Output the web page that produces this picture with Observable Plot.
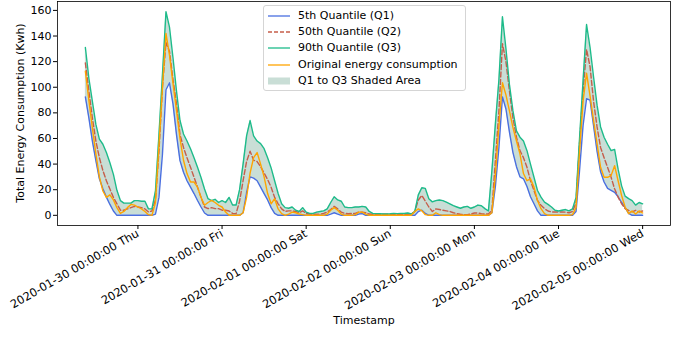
<!DOCTYPE html>
<html><head><meta charset="utf-8">
<script src="https://cdn.jsdelivr.net/npm/d3@7"></script>
<script src="https://cdn.jsdelivr.net/npm/@observablehq/plot@0.6"></script>
<style>
html,body{margin:0;padding:0;background:#fff;}
#wrap{position:relative;width:680px;height:337px;font-family:"DejaVu Sans",sans-serif;}
#legend{position:absolute;left:263px;top:5px;width:203px;height:86px;border:1px solid #d5d5d5;border-radius:3px;background:rgba(255,255,255,0.8);box-sizing:border-box;font-size:11px;color:#000;}
.row{position:absolute;left:0;height:16px;width:200px;}
.row svg{position:absolute;left:3px;top:0;}
.row span{position:absolute;left:34px;top:1px;white-space:nowrap;line-height:14px;}
#ylab{position:absolute;left:20px;top:113px;transform:translate(-50%,-50%) rotate(-90deg);white-space:nowrap;font-size:11px;color:#000;}
</style></head><body><div id="wrap"><div id="chart"></div><div id="legend"></div><div id="ylab"></div></div>
<script>
// hourly series starting 2020-01-29 09:00
const startTime = "2020-01-29T09:00:00Z";
const q1 = [
92.4,76,58,42.7,28.5,20.7,14.2,8.5,3.4,0,
0,0,0,0,0,0,0,0,0,0,
1,14,48,98,103.5,87,63,42.7,33.6,27,
22,17,11.6,6.5,1.8,0,0,0,0,0,
0,0,0,0,0,2,18,30,29,27,
22,17,12,6,1.5,0,0,0,0,0,
0,0,0,0,0,0,0,0,0,0,
1,2,1,0,0,0,0,0,1,1.3,
0,0,0,0,0,0,0,0,0,0,
0,0,0,0,0,3,4,1.5,0,0,
0,0,0,0,0,0,0,0,0,0,
0,0,0,0,0,0,2,23,53,92.5,
83,65,49,38,30,28.5,22.5,14.5,9,3.5,
0,0,0,0,0,0,0,0,0,0,
3,35,70,91,90,70,50,34,26,21,
19.5,18,14.5,10,6,1.5,0,0,0,0];
const q2 = [
119,97,76,58,45,35,27,20.5,14,9,
4,4,5,6,7,6.5,6,5,2.6,3.4,
12,50,100,135,128,106,87,63,53,45,
37.5,29.7,22,14,6.5,5.2,6,5.2,5.2,4,
4,3.4,1.5,1.3,11,27,42,50,43,42,
38,33,28,22,14,9,5,3,3.5,3.5,
3,2,3.5,1.5,1,0.8,0.8,1,1.5,2.5,
4.5,7,5,2.5,1.5,1.2,1.5,1.5,2.5,2.5,
2,1,0.8,0.8,0.8,0.8,0.8,0.8,0.8,0.8,
0.8,0.8,0.8,1,3,12,15.5,11,6.5,3,
5,4.5,4,3.5,3,2,1.3,0.8,0.5,0.5,
1,1.8,1.8,1.3,1,1,4,43,81.5,134,
120,97,76,61,50.5,45,37.5,27,19.4,11.6,
7.8,5.2,3.4,2.6,2.6,2.6,2.6,2.5,2,3,
10,56,97,129.5,116,89,69,53,45,37.5,
29.7,20.7,14.2,9,5.2,3.9,2.6,3.9,2.6,3.4];
const q3 = [
131,107,89,71,59.5,55.5,49,41,32,19.5,
11.5,9.5,9.5,9.5,11.5,11.5,11,11,5,5,
19,63,110,159,147,123,97,74,63.5,58,
52,45,37.5,29.5,20.5,13,11.5,12.5,10,11.5,
10,14,8,8,20,40,62,74,62,58,
56,52,45,37,27,17,9,6,5.5,6.5,
4,3,6,2.5,1.5,1.5,2.5,3,3.5,5,
10,14.5,12,11,6.5,6,6,6.5,6.5,7,
6.5,3,1.5,1.3,1.2,1,1,1.2,1.5,1.3,
1.5,1.5,1.8,1,3,16,21.5,21,13,10.5,
11.5,12,11.5,10.3,9,7.5,6.5,5.5,6.5,7,
5.5,6.5,8,7.5,5.2,3.4,35,72,106,155,
130,102,81.5,66,61,58,50.5,40,29.7,19.4,
14.2,10.3,8.5,6.5,4,3.4,4,4.5,3.5,5,
14,60,105,149,131,108,86,69,61,55.5,
50.5,51.5,36,23,15,13,11.5,8,10,9];
const orig = [
112.5,90,68,48,30,19,14,16,12,6,
1.5,3,6,8.5,8,6.5,5,3,0.5,0,
10,55,100,142,125,103,82,60,43,32.6,
26,26,22,14,7.8,10,11.6,10,7.8,6.5,
2.6,0,0,0,0,2,14,33,45,49,
40,30,17,9,13,5,1.3,0,1,2.5,
2,1,0.5,0,0,0,0,0,0,1,
4,6,4,1,0,0,0,0.5,2.5,2.5,
1,0,0,0,0,0,0,0,0,0,
0,0,0,0,3,5,3.5,0.5,0,0,
2,0.5,0,0,0,0,0,0,0,0,
0,0,0,0,0,0,2,32,70,103.5,
94,81.5,68.5,58,48,32.6,27,28.5,22,11.6,
5.2,1.3,0,0,0,0,0,0,0,0.5,
6,50,89,111,93,74,56,37.5,29.7,29.7,
31,38.8,27,15.5,6.5,1.3,3.4,1,3.4,1.8];
const xTickDays = ["2020-01-30","2020-01-31","2020-02-01","2020-02-02","2020-02-03","2020-02-04","2020-02-05"];
const yTicks = [0,20,40,60,80,100,120,140,160];
const seriesNames = ["5th Quantile (Q1)","50th Quantile (Q2)","90th Quantile (Q3)","Original energy consumption","Q1 to Q3 Shaded Area"];
const xLabel = "Timestamp";
const yLabel = "Total Energy Consumption (Kwh)";
const colors = {q1:"#4a6fe0", q2:"#c65d4a", q3:"#1dbb8a", orig:"#ffa500", fill:"#c9ded6"};

const t0ms = Date.parse(startTime);
const data = q1.map((_, i) => ({t: new Date(t0ms + i*3600e3), q1: q1[i], q2: q2[i], q3: q3[i], orig: orig[i]}));
const tA = +data[0].t, tB = +data[data.length-1].t, pad = (tB - tA)*0.05;
const xTicks = xTickDays.map(d => new Date(d + "T00:00:00Z"));
const fmt = d3.utcFormat("%Y-%m-%d %H:%M:%S %a");

const chart = Plot.plot({
  width: 680, height: 337,
  marginLeft: 57, marginRight: 10, marginTop: 1, marginBottom: 112,
  style: {fontFamily: "DejaVu Sans", fontSize: "11px", color: "#000", background: "#fff", overflow: "visible"},
  x: {type: "utc", domain: [new Date(tA - pad), new Date(tB + pad)]},
  y: {domain: [-7.95, 166.95]},
  marks: [
    Plot.areaY(data, {x: "t", y1: "q1", y2: "q3", fill: colors.fill}),
    Plot.line(data, {x: "t", y: "q1", stroke: colors.q1, strokeWidth: 1.4}),
    Plot.line(data, {x: "t", y: "q2", stroke: colors.q2, strokeWidth: 1.4, strokeDasharray: "5,2.4"}),
    Plot.line(data, {x: "t", y: "q3", stroke: colors.q3, strokeWidth: 1.4}),
    Plot.line(data, {x: "t", y: "orig", stroke: colors.orig, strokeWidth: 1.4}),
    Plot.frame({stroke: "#000", strokeWidth: 0.8}),
    Plot.axisY({ticks: yTicks, tickSize: 4, tickPadding: 2, label: null, fontSize: 11}),
    Plot.axisX({ticks: xTicks, tickFormat: fmt, tickRotate: -30, tickSize: 4, tickPadding: 3, label: null, fontSize: 11.4}),
    Plot.text([xLabel], {frameAnchor: "bottom", dy: 98, fontSize: 11})
  ]
});
document.getElementById("chart").appendChild(chart);
document.getElementById("ylab").textContent = yLabel;

// legend
const lg = document.getElementById("legend");
const rowCenters = [9.5, 26, 42, 58.5, 75];
const keys = ["q1","q2","q3","orig","fill"];
keys.forEach((k, i) => {
  const row = document.createElement("div");
  row.className = "row";
  row.style.top = (rowCenters[i] - 8) + "px";
  let h;
  if (k === "fill") h = `<svg width="24" height="16"><rect x="1" y="4.5" width="22" height="7" fill="${colors.fill}"/></svg>`;
  else h = `<svg width="24" height="16"><line x1="1" x2="23" y1="8" y2="8" stroke="${colors[k]}" stroke-width="1.3" ${k==="q2"?'stroke-dasharray="4,2"':''}/></svg>`;
  row.innerHTML = h + `<span>${seriesNames[i]}</span>`;
  lg.appendChild(row);
});
</script></body></html>
